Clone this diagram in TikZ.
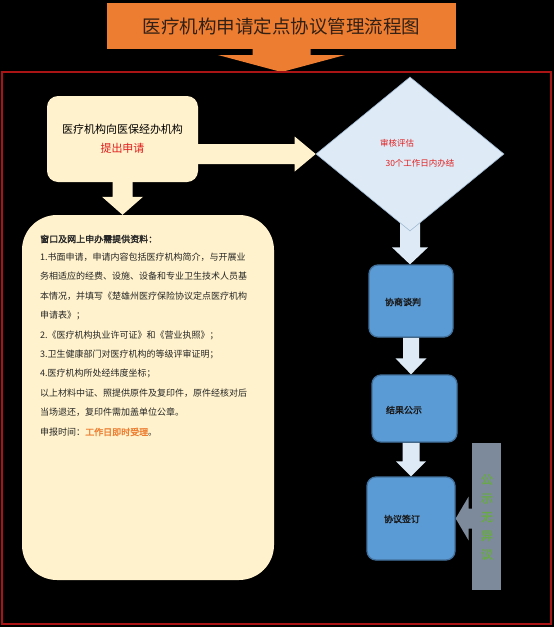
\documentclass[tikz,border=0pt]{standalone}
\usepackage{fontspec}
\setmainfont{Noto Sans CJK SC}[AutoFakeBold=2]
\usetikzlibrary{shapes.geometric,calc,backgrounds}
\definecolor{cream}{RGB}{255,242,204}
\definecolor{lblue}{RGB}{222,235,247}
\definecolor{dborder}{RGB}{160,185,210}
\definecolor{bfill}{RGB}{91,155,213}
\definecolor{bdraw}{RGB}{65,113,156}
\definecolor{orng}{RGB}{237,125,49}
\definecolor{framered}{RGB}{170,20,20}
\definecolor{slate}{RGB}{125,138,155}
\definecolor{titletxt}{RGB}{50,32,20}
\definecolor{txtred}{RGB}{225,30,30}
\definecolor{gtxt}{RGB}{105,170,70}
\newcommand\blkdown[6]{%
  \fill[#1] let \p1=(#2), \p2=(#3) in
  (\x1-#4,\y1) -- (\x1+#4,\y1) -- (\x1+#4,\y2+#6) -- (\x1+#5,\y2+#6) --
  (\x1,\y2) -- (\x1-#5,\y2+#6) -- (\x1-#4,\y2+#6) -- cycle;}
\newcommand\blkright[6]{%
  \fill[#1] let \p1=(#2), \p2=(#3) in
  (\x1,\y1-#4) -- (\x2-#6,\y1-#4) -- (\x2-#6,\y1-#5) -- (\x2,\y1) --
  (\x2-#6,\y1+#5) -- (\x2-#6,\y1+#4) -- (\x1,\y1+#4) -- cycle;}
\newcommand\blkleft[6]{%
  \fill[#1] let \p1=(#2), \p2=(#3) in
  (\x1,\y1+#4) -- (\x2+#6,\y1+#4) -- (\x2+#6,\y1+#5) -- (\x2,\y1) --
  (\x2+#6,\y1-#5) -- (\x2+#6,\y1-#4) -- (\x1,\y1-#4) -- cycle;}
\tikzset{
  bluebox/.style={draw=bdraw, line width=1.3pt, fill=bfill, rounded corners=9pt, inner sep=0},
  bluetext/.style={font=\fontsize{9}{11}\selectfont\bfseries, text=black!90},
  listline/.style={anchor=west, font=\fontsize{9}{11}\selectfont, text=black!85, inner sep=0},
  dtext/.style={font=\fontsize{8.5}{10}\selectfont, text=txtred, inner sep=0},
}
\begin{document}
\begin{tikzpicture}[x=1pt,y=-1pt]
\useasboundingbox (0,0) rectangle (554,627);
% title
\node[fill=orng, minimum width=349pt, minimum height=46pt, inner sep=0,
      font=\fontsize{18.5}{20}\selectfont, text=titletxt] (title) at (281.5,26) {医疗机构申请定点协议管理流程图};
\coordinate (ttip) at (281.5,72);
% first box
\node[fill=cream, rounded corners=11pt, minimum width=151pt, minimum height=86pt, inner sep=0,
      align=center, font=\fontsize{11}{19}\selectfont] (b1) at (122.5,139)
      {医疗机构向医保经办机构\\\textcolor{txtred}{提出申请}};
% big box
\node[fill=cream, rounded corners=35pt, minimum width=252pt, minimum height=365pt, inner sep=0] (big) at (148,397.5) {};
\node[listline, font=\fontsize{9}{11}\selectfont\bfseries] (l1) at (40,239) {窗口及网上申办需提供资料：};
\node[listline] (l2) at (40,257) {1.书面申请，申请内容包括医疗机构简介，与开展业};
\node[listline] (l3) at (40,276.5) {务相适应的经费、设施、设备和专业卫生技术人员基};
\node[listline] (l4) at (40,296) {本情况，并填写《楚雄州医疗保险协议定点医疗机构};
\node[listline] (l5) at (40,315.5) {申请表》；};
\node[listline] (l6) at (40,335) {2.《医疗机构执业许可证》和《营业执照》；};
\node[listline] (l7) at (40,354) {3.卫生健康部门对医疗机构的等级评审证明；};
\node[listline] (l8) at (40,373) {4.医疗机构所处经纬度坐标；};
\node[listline] (l9) at (40,393) {以上材料中证、照提供原件及复印件，原件经核对后};
\node[listline] (l10) at (40,412.5) {当场退还，复印件需加盖单位公章。};
\node[listline] (l11) at (40,432) {申报时间：\textcolor{orng}{\bfseries 工作日即时受理}。};
% diamond
\node[diamond, fill=lblue, draw=dborder, line width=0.6pt, minimum width=188pt, minimum height=154pt, inner sep=0] (dia) at (410,154) {};
\node[dtext] (d1) at (397,143) {审核评估};
\node[dtext] (d2) at (420,163) {30个工作日内办结};
% blue boxes
\node[bluebox, minimum width=84pt, minimum height=72pt] (b2) at (411,301) {};
\node[bluetext] (t2) at (403,302) {协商谈判};
\node[bluebox, minimum width=85pt, minimum height=67pt] (b3) at (414.5,408.5) {};
\node[bluetext] (t3) at (404,410) {结果公示};
\node[bluebox, minimum width=88pt, minimum height=83pt] (b4) at (411,518.5) {};
\node[bluetext] (t4) at (402,519) {协议签订};
% grey bar
\node[fill=slate, minimum width=29pt, minimum height=147pt, inner sep=0] (bar) at (486.5,516.5) {};
\node[text=gtxt, align=center, font=\fontsize{12}{18.7}\selectfont\bfseries] (bt) at (487,517) {公\\示\\无\\异\\议};
% frame
\node[draw=framered, line width=1.2pt, minimum width=549pt, minimum height=552pt, inner sep=0] (frame) at (276.5,348) {};
\begin{pgfonlayer}{background}
  \fill[black] (0,0) rectangle (554,627);
  \blkdown{orng}{title.south}{ttip}{29pt}{63.5pt}{17pt}
  \blkdown{cream}{b1.south}{b1.south |- big.north}{10pt}{20.5pt}{18pt}
  \blkright{cream}{b1.east |- dia.west}{dia.west}{10pt}{17.5pt}{21pt}
  \blkdown{lblue}{$(dia.south)+(0,-14)$}{b2.north}{10pt}{18pt}{17pt}
  \blkdown{lblue}{b2.south}{b2.south |- b3.north}{8pt}{15.5pt}{16pt}
  \blkdown{lblue}{b4.north |- b3.south}{b4.north}{8.5pt}{15pt}{15pt}
  \blkleft{slate}{bar.west |- b4.east}{b4.east}{10pt}{22pt}{13pt}
\end{pgfonlayer}
\end{tikzpicture}
\end{document}
